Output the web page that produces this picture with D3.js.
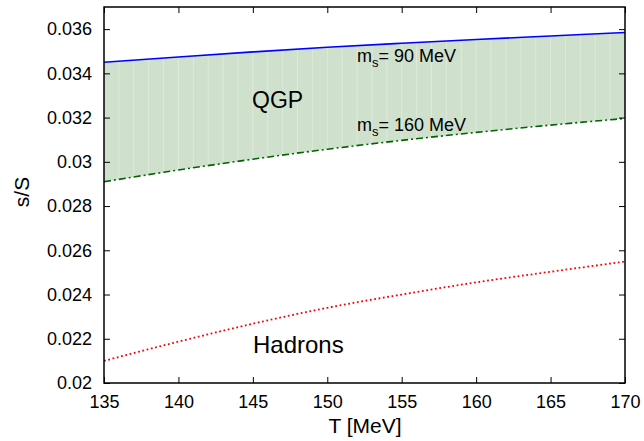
<!DOCTYPE html>
<html>
<head>
<meta charset="utf-8">
<script src="https://cdn.jsdelivr.net/npm/d3@7"></script>
<style>
    body { margin: 0; background: #fff; }
    svg { font-family: "Liberation Sans", Arial, sans-serif; }
</style>
</head>
<body>
<div class="st-charts"></div>
<script>
var temps = [135, 140, 145, 150, 155, 160, 165, 170];
// s/S for m_s = 90 MeV (upper QGP bound)
var qgp90 = [0.03450, 0.03474, 0.03497, 0.03518, 0.03536, 0.03553, 0.03569, 0.03585];
// s/S for m_s = 160 MeV (lower QGP bound)
var qgp160 = [0.02910, 0.02963, 0.03012, 0.03057, 0.03097, 0.03133, 0.03166, 0.03196];
// hadron gas
var hadrons = [0.02100, 0.02187, 0.02268, 0.02340, 0.02400, 0.02455, 0.02503, 0.02549];

var xTicks = [135, 140, 145, 150, 155, 160, 165, 170];
var yTicks = [0.02, 0.022, 0.024, 0.026, 0.028, 0.03, 0.032, 0.034, 0.036];

var width = 644, height = 441;
var margin = {top: 7, right: 19, bottom: 58, left: 104};

var svg = d3.select('.st-charts')
    .append('svg')
    .attr('width', width)
    .attr('height', height);

var x = d3.scaleLinear().domain([135, 170]).range([margin.left, width - margin.right]);
var y = d3.scaleLinear().domain([0.02, 0.037]).range([height - margin.bottom, margin.top]);

var rows = temps.map(function (t, i) {
    return {t: t, hi: qgp90[i], lo: qgp160[i], h: hadrons[i]};
});

// QGP band
var area = d3.area()
    .curve(d3.curveMonotoneX)
    .x(function (d) { return x(d.t); })
    .y0(function (d) { return y(d.lo); })
    .y1(function (d) { return y(d.hi); });

svg.append('clipPath').attr('id', 'band')
    .append('path').attr('d', area(rows));

svg.append('path')
    .attr('d', area(rows))
    .attr('fill', '#cfe1cd');

// faint seams of the filled strips, one per MeV
svg.append('g')
    .attr('clip-path', 'url(#band)')
    .selectAll('line')
    .data(d3.range(136, 170))
    .enter()
    .append('line')
    .attr('x1', function (d) { return x(d); })
    .attr('x2', function (d) { return x(d); })
    .attr('y1', y(0.037))
    .attr('y2', y(0.028))
    .attr('stroke', '#fff')
    .attr('stroke-opacity', 0.3)
    .attr('stroke-width', 1);

function curve(key) {
    return d3.line()
        .curve(d3.curveMonotoneX)
        .x(function (d) { return x(d.t); })
        .y(function (d) { return y(d[key]); })(rows);
}

svg.append('path').attr('d', curve('hi'))
    .attr('fill', 'none').attr('stroke', '#0000ff').attr('stroke-width', 1.6);

svg.append('path').attr('d', curve('lo'))
    .attr('fill', 'none').attr('stroke', '#006400').attr('stroke-width', 1.6)
    .attr('stroke-dasharray', '7,3,2,3');

svg.append('path').attr('d', curve('h'))
    .attr('fill', 'none').attr('stroke', '#ff0000').attr('stroke-width', 1.8)
    .attr('stroke-dasharray', '1.8,2.6');

// axes with inward ticks on all four sides
var fmt = function (d) { return String(+d.toFixed(3)); };

svg.append('g')
    .attr('transform', 'translate(0,' + (height - margin.bottom) + ')')
    .call(d3.axisBottom(x).tickValues(xTicks).tickSizeInner(-6).tickSizeOuter(0).tickPadding(12))
    .call(function (g) {
        g.select('.domain').remove();
        g.selectAll('text').attr('font-size', 18).attr('fill', '#000');
    });

svg.append('g')
    .attr('transform', 'translate(' + margin.left + ',0)')
    .call(d3.axisLeft(y).tickValues(yTicks).tickFormat(fmt).tickSizeInner(-6).tickSizeOuter(0).tickPadding(12))
    .call(function (g) {
        g.select('.domain').remove();
        g.selectAll('text').attr('font-size', 18).attr('fill', '#000');
    });

svg.append('g')
    .attr('transform', 'translate(0,' + margin.top + ')')
    .call(d3.axisTop(x).tickValues(xTicks).tickFormat('').tickSizeInner(-6).tickSizeOuter(0))
    .call(function (g) { g.select('.domain').remove(); });

svg.append('g')
    .attr('transform', 'translate(' + (width - margin.right) + ',0)')
    .call(d3.axisRight(y).tickValues(yTicks).tickFormat('').tickSizeInner(-6).tickSizeOuter(0))
    .call(function (g) { g.select('.domain').remove(); });

svg.append('rect')
    .attr('x', margin.left)
    .attr('y', margin.top)
    .attr('width', width - margin.left - margin.right)
    .attr('height', height - margin.top - margin.bottom)
    .attr('fill', 'none')
    .attr('stroke', '#000')
    .attr('stroke-width', 1.5);

// axis titles
svg.append('text')
    .attr('x', 365).attr('y', 433)
    .attr('text-anchor', 'middle')
    .attr('font-size', 21)
    .text('T [MeV]');

svg.append('text')
    .attr('transform', 'translate(29,192) rotate(-90)')
    .attr('text-anchor', 'middle')
    .attr('font-size', 21)
    .text('s/S');

// annotations
svg.append('text').attr('x', 252).attr('y', 108).attr('font-size', 23).text('QGP');
svg.append('text').attr('x', 253).attr('y', 353).attr('font-size', 24).text('Hadrons');

function massLabel(px, py, txt) {
    var t = svg.append('text').attr('x', px).attr('y', py).attr('font-size', 18);
    t.append('tspan').text('m');
    t.append('tspan').attr('font-size', 13).attr('dy', 5).text('s');
    t.append('tspan').attr('dy', -5).text('= ' + txt);
}
massLabel(357, 62, '90 MeV');
massLabel(357, 131, '160 MeV');
</script>
</body>
</html>
